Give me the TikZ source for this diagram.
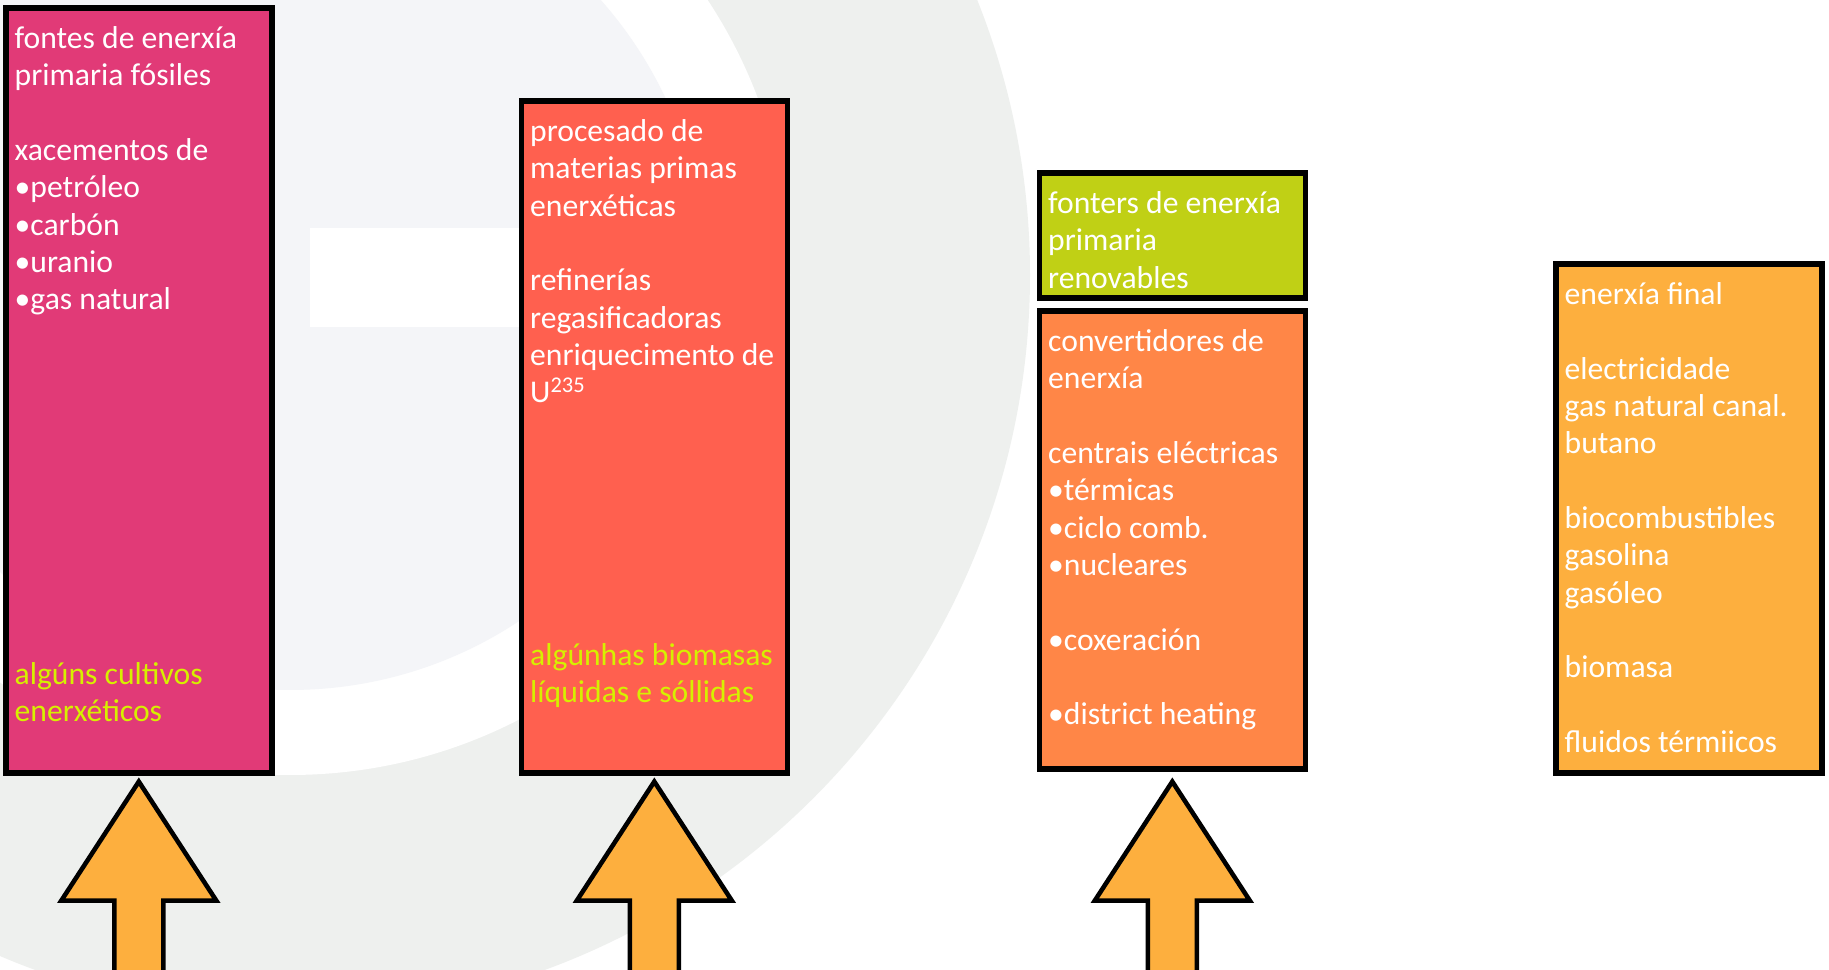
\documentclass[tikz,border=0pt]{standalone}
\usepackage{fontspec}
\setmainfont{Carlito}
\definecolor{fospink}{RGB}{225,58,119}
\definecolor{procred}{RGB}{255,96,79}
\definecolor{renvgreen}{RGB}{192,208,21}
\definecolor{convorange}{RGB}{255,134,71}
\definecolor{finalamber}{RGB}{253,175,62}
\definecolor{bioyellow}{RGB}{214,240,0}
\definecolor{ringgray}{RGB}{238,240,238}
\definecolor{diskgray}{RGB}{244,245,248}
\newcommand\isotope[1]{\raisebox{0.32em}{\fontsize{6.4}{6.4}\selectfont #1}}
\tikzset{
  box/.style={draw=black, line width=1.6pt, minimum width=2.66cm, anchor=north west, inner sep=0pt},
  txt/.style={anchor=north west, inner sep=0pt, text=white, align=left, font=\fontsize{9}{10.62}\selectfont},
  bio/.style={txt, text=bioyellow},
  bigarrow/.style={draw=black, line width=1.3pt, fill=finalamber, line join=miter}
}
\begin{document}
\begin{tikzpicture}
  \clip (0,0) rectangle (18.29,9.70);
  \fill[white] (0,0) rectangle (18.29,9.70);
  % logo in the background
  \fill[ringgray] (2.90,6.95) circle (7.40);
  \fill[white] (2.90,6.95) circle (5.00);
  \fill[diskgray] (2.90,6.95) circle (4.15);
  \fill[white] (3.10,6.43) rectangle (7.10,7.42);

  \node[box, fill=fospink, minimum height=7.65cm] (fos) at (0.03,9.65) {};
  \node[box, fill=procred, minimum height=6.72cm] (proc) at (5.185,8.72) {};
  \node[box, fill=renvgreen, minimum height=1.25cm] (renov) at (10.365,8.00) {};
  \node[box, fill=convorange, minimum height=4.58cm] (conv) at (10.365,6.62) {};
  \node[box, fill=finalamber, minimum height=5.09cm] (final) at (15.53,7.09) {};

  \node[txt] (fostxt) at ([shift={(0.11,-0.21)}]fos.north west)
    {fontes de enerxía\\primaria fósiles\\[10.62pt]xacementos de\\•petróleo\\•carbón\\•uranio\\•gas natural};
  \node[bio] (fosbio) at ([shift={(0.11,-6.57)}]fos.north west)
    {algúns cultivos\\enerxéticos};
  \node[txt] (proctxt) at ([shift={(0.11,-0.21)}]proc.north west)
    {procesado de\\materias primas\\enerxéticas\\[10.62pt]refinerías\\regasificadoras\\enriquecimento de\\U\isotope{235}};
  \node[bio] (procbio) at ([shift={(0.11,-5.45)}]proc.north west)
    {algúnhas biomasas\\líquidas e sóllidas};
  \node[txt] (renovtxt) at ([shift={(0.11,-0.21)}]renov.north west)
    {fonters de enerxía\\primaria\\renovables};
  \node[txt] (convtxt) at ([shift={(0.11,-0.21)}]conv.north west)
    {convertidores de\\enerxía\\[10.62pt]centrais eléctricas\\•térmicas\\•ciclo comb.\\•nucleares\\[10.62pt]•coxeración\\[10.62pt]•district heating};
  \node[txt] (finaltxt) at ([shift={(0.11,-0.21)}]final.north west)
    {enerxía final\\[10.62pt]electricidade\\gas natural canal.\\butano\\[10.62pt]biocombustibles\\gasolina\\gasóleo\\[10.62pt]biomasa\\[10.62pt]fluidos térmiicos};

  \foreach \n in {fos,proc,conv}
    \draw[bigarrow] (\n.south |- fos.south) ++(0,-0.06) -- ++(0.775,-1.19) -- ++(-0.53,0)
      -- ++(0,-1.5) -- ++(-0.49,0) -- ++(0,1.5) -- ++(-0.53,0) -- cycle;
\end{tikzpicture}
\end{document}
